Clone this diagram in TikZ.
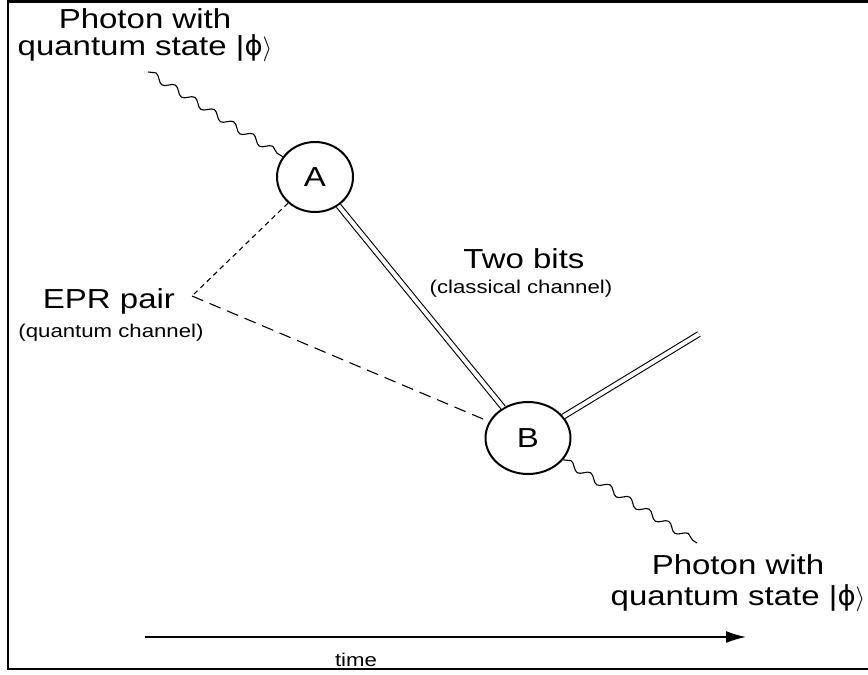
\documentclass[tikz,border=0pt]{standalone}
\usepackage{fontspec}
\setmainfont{Liberation Sans}[FakeStretch=1.2]
\newfontfamily\dvsans{DejaVu Sans}
\newcommand{\straightphi}{{\dvsans ϕ}}
\usetikzlibrary{shapes.geometric,decorations.pathmorphing,arrows.meta}
\begin{document}
\begin{tikzpicture}[x=1pt,y=-1pt,
  big/.style={font=\fontsize{27.5}{27}\selectfont, inner sep=0pt},
  bigb/.style={font=\fontsize{27.5}{31}\selectfont, inner sep=0pt},
  small/.style={font=\fontsize{18.5}{20}\selectfont, inner sep=0pt},
  party/.style={draw, ellipse, line width=2pt, inner sep=0pt, font=\fontsize{27.5}{27}\selectfont},
  wave/.style={decorate, decoration={snake, segment length=23pt, amplitude=3.5pt}, line width=1.1pt},
  chan/.style={double, double distance=4pt, line width=1.1pt},
  eprone/.style={dash pattern=on 5pt off 4pt, line width=1.1pt},
  eprtwo/.style={dash pattern=on 12pt off 7pt, line width=1.1pt}]
\useasboundingbox (0,0) rectangle (868,675);
\draw[line width=2.5pt] (868,1.5) -- (8,1.5) -- (8,669) -- (868,669);

\node[party, minimum width=76pt, minimum height=70pt] (A) at (315,177) {A};
\node[party, minimum width=85pt, minimum height=72pt] (B) at (528,438) {B};
\coordinate (win) at (148,72);
\coordinate (wout) at (697,543);
\coordinate (cout) at (699,334);
\coordinate (epr) at (192,296);

\draw[wave] (win) -- (A);
\draw[wave] (B) -- (wout);
\draw[chan] (A) -- (B);
\draw[chan] (B) -- (cout);
\draw[eprone] (A) -- (epr);
\draw[eprtwo] (epr) -- (B);

\node[big, align=center] (lin) at (145,35) {Photon with\\quantum state |\straightphi$\rangle$};
\node[bigb, align=center] (lout) at (738,583) {Photon with\\quantum state |\straightphi$\rangle$};
\node[big, anchor=base] (eprl) at (109,308) {EPR pair};
\node[small, anchor=base] (eprs) at (111,337) {(quantum channel)};
\node[big, anchor=base] (bits) at (524,268) {Two bits};
\node[small, anchor=base] (bitss) at (521,293) {(classical channel)};

\coordinate (tstart) at (145,637);
\coordinate (tend) at (746,637);
\draw[-{Latex[length=20pt,width=12pt]}, line width=1.5pt] (tstart) -- (tend);
\node[small, anchor=base] (time) at (356,666) {time};
\end{tikzpicture}
\end{document}
